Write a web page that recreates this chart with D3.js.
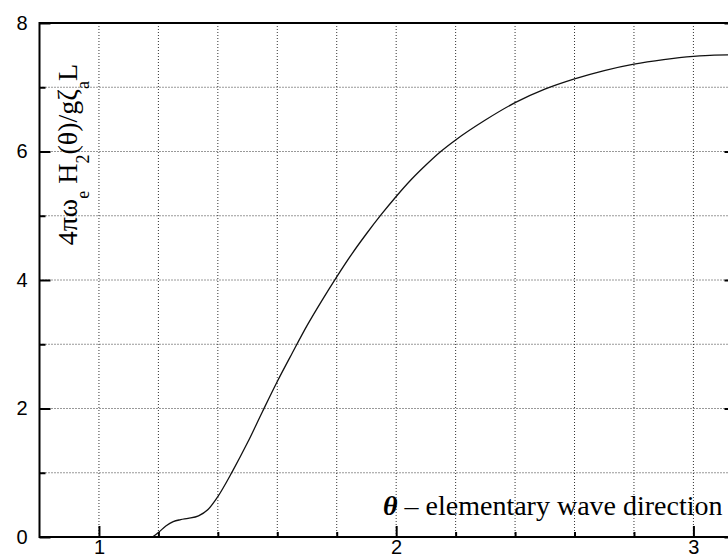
<!DOCTYPE html>
<meta charset="utf-8">
<style>
  body { margin: 0; background: #fff; }
  .tick line { stroke: #000; stroke-width: 2px; }
  .grid line { stroke: #333; stroke-width: 1px; stroke-dasharray: 1,2; }
  .frame { stroke: #000; stroke-width: 2px; fill: none; }
  .label { font-family: "Liberation Serif", "Times New Roman", serif; fill: #000; }
</style>
<body>
<script src="https://d3js.org/d3.v7.min.js"></script>
<script>
// curve: theta (rad) -> 4*pi*w*He*H2/(g*zeta*L)
var theta = [1.18, 1.20, 1.225, 1.25, 1.275, 1.30, 1.335, 1.365, 1.40, 1.45, 1.50, 1.55,
             1.60, 1.65, 1.70, 1.75, 1.80, 1.85, 1.90, 1.95, 2.00, 2.05, 2.10, 2.15, 2.20,
             2.30, 2.40, 2.50, 2.60, 2.70, 2.80, 2.90, 3.00, 3.07, 3.1416];
var h2 = [0, 0.07, 0.17, 0.24, 0.27, 0.29, 0.33, 0.42, 0.63, 1.03, 1.47, 1.95,
          2.42, 2.86, 3.29, 3.68, 4.05, 4.40, 4.72, 5.02, 5.30, 5.56, 5.79, 6.00, 6.18,
          6.49, 6.76, 6.97, 7.13, 7.26, 7.36, 7.43, 7.48, 7.50, 7.505];

var xMajor = [1, 2, 3];
var xMinor = [1.2, 1.4, 1.6, 1.8, 2.2, 2.4, 2.6, 2.8];
var yMajor = [0, 2, 4, 6, 8];
var yMinor = [1, 3, 5, 7];

var width = 728, height = 560;
var margin = {top: 23, left: 39.5, bottom: 23, right: -7.5};

var x = d3.scaleLinear().domain([0.8, Math.PI]).range([margin.left, width - margin.right]);
var y = d3.scaleLinear().domain([0, 8]).range([height - margin.bottom, margin.top]);

var svg = d3.select("body").append("svg")
    .attr("width", width)
    .attr("height", height);

// dotted grid
var grid = svg.append("g").attr("class", "grid");
grid.selectAll(".gx")
    .data(xMajor.concat(xMinor))
  .enter().append("line")
    .attr("x1", d => x(d)).attr("x2", d => x(d))
    .attr("y1", y(8)).attr("y2", y(0));
grid.selectAll(".gy")
    .data(yMinor.concat([2, 4, 6]))
  .enter().append("line")
    .attr("x1", x(0.8)).attr("x2", x(Math.PI))
    .attr("y1", d => y(d)).attr("y2", d => y(d));

// curve
var line = d3.line()
    .x((d, i) => x(theta[i]))
    .y(d => y(d))
    .curve(d3.curveMonotoneX);

svg.append("path")
    .datum(h2)
    .attr("d", line)
    .attr("fill", "none")
    .attr("stroke", "#111")
    .attr("stroke-width", 1.3);

// axes, ticks pointing inwards
function tidy(g) {
  g.select(".domain").remove();
  g.selectAll("text")
    .style("font-family", "'Liberation Sans', Arial, sans-serif")
    .style("font-size", "20px")
    .attr("fill", "#000");
}

svg.append("g")
    .attr("transform", "translate(0," + y(0) + ")")
    .call(d3.axisBottom(x).tickValues(xMajor).tickSize(-11).tickPadding(3).tickFormat(d3.format("d")))
    .call(tidy);
svg.append("g")
    .attr("transform", "translate(0," + y(0) + ")")
    .call(d3.axisBottom(x).tickValues(xMinor).tickSize(-5).tickFormat(""))
    .call(tidy);

svg.append("g")
    .attr("transform", "translate(" + x(0.8) + ",0)")
    .call(d3.axisLeft(y).tickValues(yMajor).tickSize(-11).tickPadding(12).tickFormat(d3.format("d")))
    .call(tidy);
svg.append("g")
    .attr("transform", "translate(" + x(0.8) + ",0)")
    .call(d3.axisLeft(y).tickValues(yMinor).tickSize(-6).tickFormat(""))
    .call(tidy);

svg.append("g")
    .attr("transform", "translate(" + x(Math.PI) + ",0)")
    .call(d3.axisRight(y).tickValues(yMajor).tickSize(-11).tickFormat(""))
    .call(tidy);

svg.append("rect")
    .attr("class", "frame")
    .attr("x", x(0.8)).attr("y", y(8))
    .attr("width", x(Math.PI) - x(0.8))
    .attr("height", y(0) - y(8));

// y label (rotated, with subscripts)
var yl = svg.append("text")
    .attr("class", "label")
    .attr("transform", "translate(77,64) rotate(-90)")
    .attr("text-anchor", "end")
    .style("font-size", "28px");
yl.append("tspan").text("4πω");
yl.append("tspan").attr("dy", 12).style("font-size", "18px").text("e");
yl.append("tspan").attr("dy", -12).text(" H");
yl.append("tspan").attr("dy", 12).style("font-size", "18px").text("2");
yl.append("tspan").attr("dy", -12).text("(θ)/gζ");
yl.append("tspan").attr("dy", 12).style("font-size", "18px").text("a");
yl.append("tspan").attr("dy", -12).text("L");

// x label
var xl = svg.append("text")
    .attr("class", "label")
    .attr("x", 383)
    .attr("y", 515)
    .style("font-size", "28px");
xl.append("tspan").style("font-weight", "bold").style("font-style", "italic").text("θ");
xl.append("tspan").text(" – elementary wave direction");
</script>
</body>
